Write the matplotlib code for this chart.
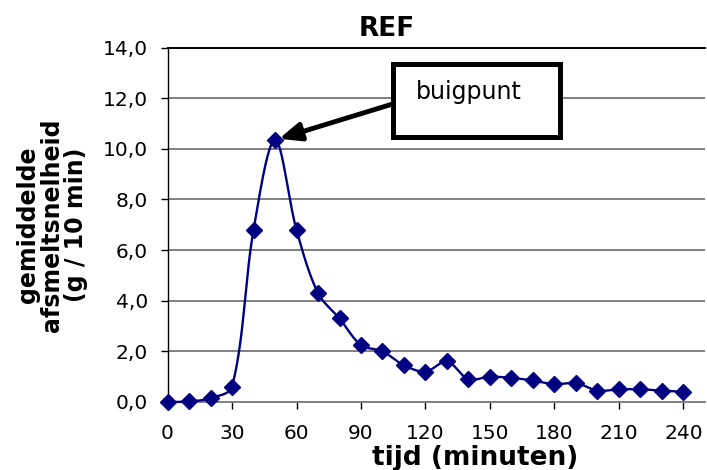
import numpy as np
import matplotlib
matplotlib.use("Agg")
import matplotlib.pyplot as plt
from matplotlib.patches import Rectangle
from matplotlib.ticker import FuncFormatter

# data
tijd = [0, 10, 20, 30, 40, 50, 60, 70, 80, 90, 100, 110, 120, 130, 140,
        150, 160, 170, 180, 190, 200, 210, 220, 230, 240]
snelheid = [0.0, 0.02, 0.15, 0.6, 6.8, 10.35, 6.8, 4.3, 3.3, 2.25, 2.0, 1.45,
            1.2, 1.6, 0.9, 1.0, 0.95, 0.85, 0.7, 0.75, 0.45, 0.5, 0.5, 0.45, 0.4]
x_ticks = [0, 30, 60, 90, 120, 150, 180, 210, 240]
y_ticks = [0, 2, 4, 6, 8, 10, 12, 14]

title = "REF"
xlabel = "tijd (minuten)"
ylabel = "gemiddelde\nafsmeltsnelheid\n(g / 10 min)"
annot = "buigpunt"
peak_index = 5

navy = "#000080"


def smooth_pixels(P, n=40):
    """Excel-like smoothed line: Bezier segments with chord-proportional tangents."""
    P = np.asarray(P, float)
    ext = np.vstack([P[0], P, P[-1]])
    d = np.linalg.norm(np.diff(ext, axis=0), axis=1)
    out = []
    t = np.linspace(0, 1, n)[:, None]
    for i in range(1, len(ext) - 2):
        p0, p1, p2, p3 = ext[i - 1], ext[i], ext[i + 1], ext[i + 2]
        d0, d1, d2 = d[i - 1], d[i], d[i + 1]
        f1 = d1 / (d0 + d1) if (d0 + d1) > 0 else 0.5
        f2 = d1 / (d1 + d2) if (d1 + d2) > 0 else 0.5
        c1 = p1 + (p2 - p0) * f1 / 3
        c2 = p2 - (p3 - p1) * f2 / 3
        seg = ((1 - t) ** 3) * p1 + 3 * ((1 - t) ** 2) * t * c1 \
            + 3 * (1 - t) * t ** 2 * c2 + t ** 3 * p2
        out.append(seg)
    return np.vstack(out)


fig = plt.figure(figsize=(7.07, 4.70), dpi=100)
ax = fig.add_axes([0.237, 0.1447, 0.76, 0.754])
ax.set_xlim(0, 250)
ax.set_ylim(0, 14)

pix = ax.transData.transform(np.column_stack([tijd, snelheid]))
curve = ax.transData.inverted().transform(smooth_pixels(pix))
ax.plot(curve[:, 0], curve[:, 1], color=navy, lw=1.7, zorder=3, clip_on=False)
ax.plot(tijd, snelheid, linestyle="none", marker="D", markersize=8.5,
        color=navy, zorder=4, clip_on=False)

ax.set_xticks(x_ticks)
ax.set_yticks(y_ticks)
ax.yaxis.set_major_formatter(FuncFormatter(lambda v, p: f"{v:.1f}".replace(".", ",")))

ax.grid(axis="y", color="#808080", lw=1.4, zorder=0)
ax.set_axisbelow(True)
ax.spines["right"].set_visible(False)
ax.spines["top"].set_color("black")
ax.spines["top"].set_linewidth(1.4)
ax.spines["left"].set_color("black")
ax.spines["left"].set_linewidth(1.0)
ax.spines["bottom"].set_color("#808080")
ax.spines["bottom"].set_linewidth(1.4)

ax.tick_params(axis="both", direction="out", length=5, width=1.0,
               labelsize=14.5, colors="black")
ax.tick_params(axis="y", pad=9)
ax.tick_params(axis="x", pad=10.5)

ax.text(0.408, 1.0324, title, transform=ax.transAxes, fontsize=19,
        fontweight="bold", ha="center", va="baseline")
ax.set_xlabel(xlabel, fontsize=19, fontweight="bold", labelpad=1.5, x=0.572)
ax.set_ylabel(ylabel, fontsize=17, fontweight="bold", labelpad=11,
              linespacing=1.0)

# annotation box
box = Rectangle((0.419, 0.749), 0.312, 0.206, transform=ax.transAxes,
                facecolor="white", edgecolor="black", lw=3.6, zorder=5,
                clip_on=False)
ax.add_patch(box)
ax.text(0.561, 0.874, annot, transform=ax.transAxes, fontsize=17,
        ha="center", va="center", zorder=6)
ax.annotate("", xy=(tijd[peak_index], snelheid[peak_index]),
            xytext=(0.417, 0.84), textcoords="axes fraction",
            arrowprops=dict(arrowstyle="-|>,head_length=1.3,head_width=0.55",
                            color="black", lw=3.5, shrinkA=0, shrinkB=3),
            zorder=6)

fig.savefig("out.png", dpi=100)
